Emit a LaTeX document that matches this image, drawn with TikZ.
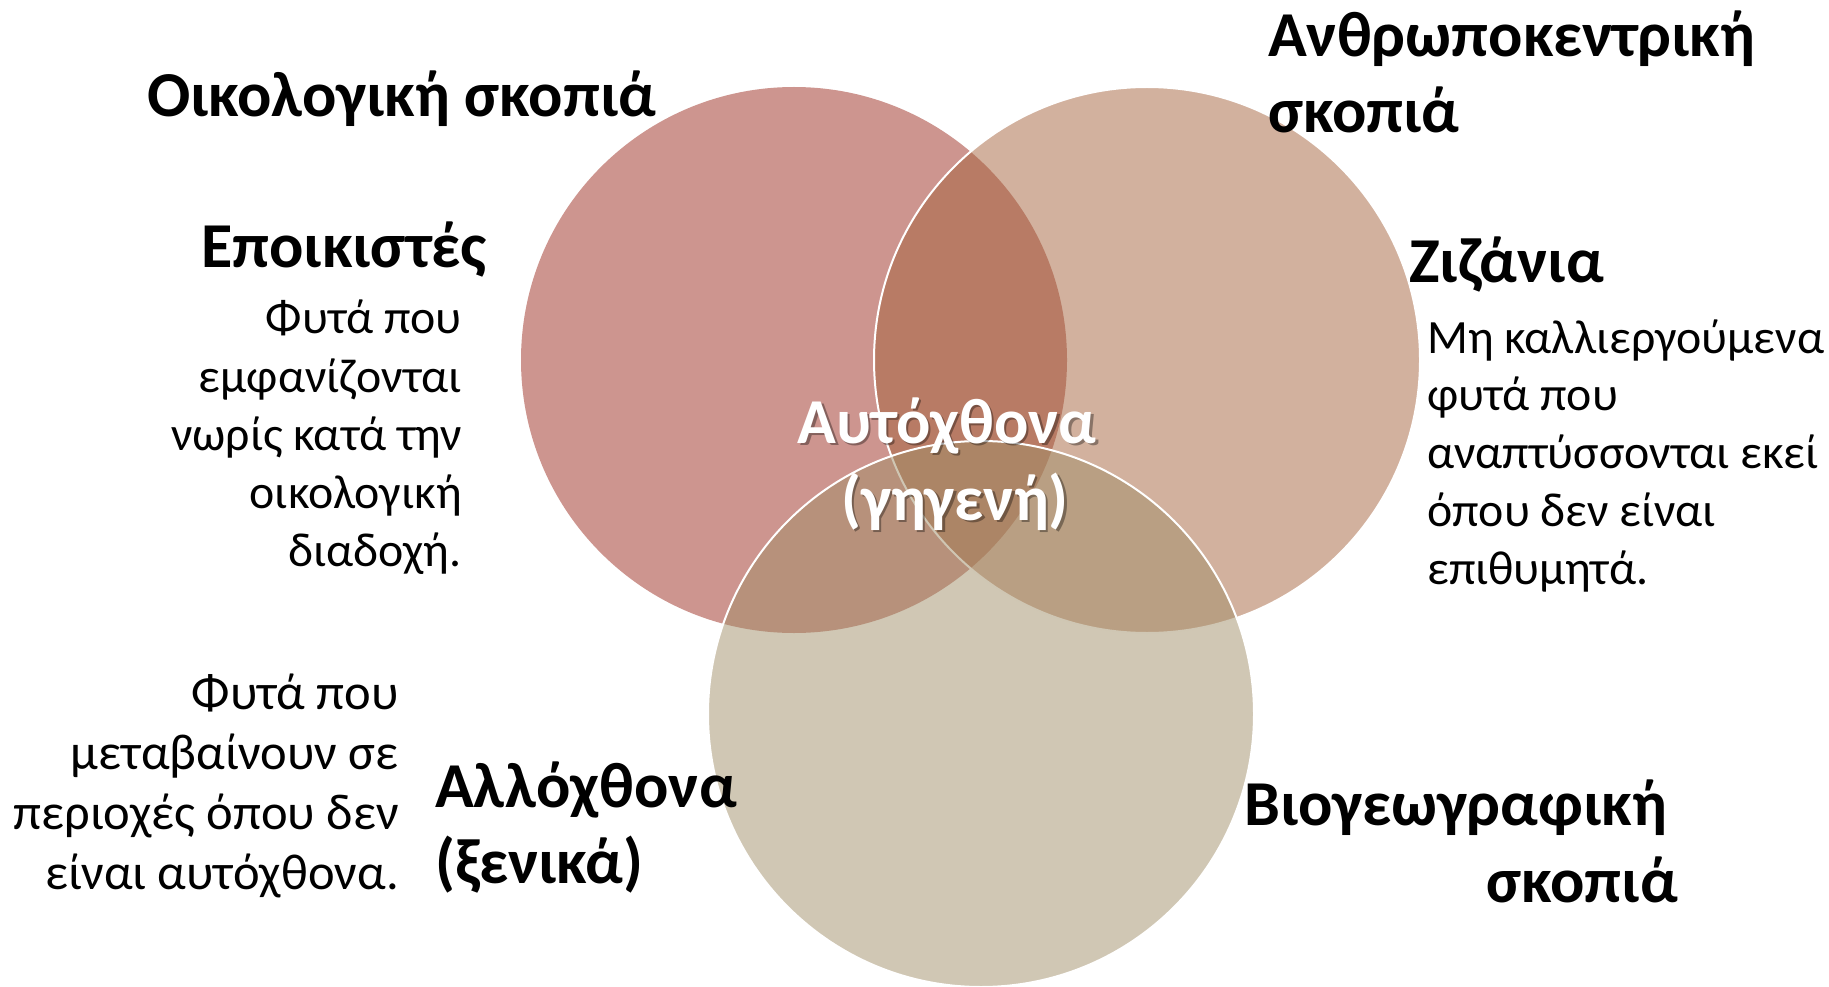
\documentclass[tikz,border=0pt]{standalone}
\usepackage{fontspec}
\setmainfont{Carlito}
\definecolor{cred}{RGB}{155,43,31}
\definecolor{ctan}{RGB}{165,99,61}
\definecolor{cbot}{RGB}{161,143,105}
\tikzset{
  venn/.style={circle, minimum size=546pt, inner sep=0pt, fill opacity=0.5},
  vline/.style={draw=white, line width=2pt},
  head/.style={inner sep=0pt, font=\fontsize{64}{76}\selectfont\bfseries},
  body/.style={inner sep=0pt, font=\fontsize{47.8}{58}\selectfont},
  bodyb/.style={inner sep=0pt, font=\fontsize{50.5}{60}\selectfont},
  ctext/.style={inner sep=0pt, anchor=base, text=white, font=\fontsize{64}{76}\selectfont\bfseries},
  cshadow/.style={inner sep=0pt, anchor=base, text=black, text opacity=0.35, font=\fontsize{64}{76}\selectfont\bfseries}
}
\begin{document}
\begin{tikzpicture}[x=1pt,y=-1pt]
\useasboundingbox (0,0) rectangle (1829,987);
% circles
\node[venn, fill=cred] (red) at (794,360) {};
\node[venn, fill=ctan, vline] (tan) at (1147,360) {};
\node[venn, fill=cbot, vline] (bot) at (981,714) {};
% headings
\node[head, anchor=base west] (oik) at (147,117) {Οικολογική σκοπιά};
\node[head, anchor=base west] (anth1) at (1268,57) {Ανθρωποκεντρική};
\node[head, anchor=base west] (anth2) at (1268,133) {σκοπιά};
\node[head, anchor=base east] (epo) at (487,268) {Εποικιστές};
\node[head, anchor=base west] (ziz) at (1409,283) {Ζιζάνια};
\node[head, anchor=base west] (all1) at (435,807) {Αλλόχθονα};
\node[head, anchor=base west] (all2) at (435,883) {(ξενικά)};
\node[head, anchor=base west] (bio1) at (1244,825) {Βιογεωγραφική};
\node[head, anchor=base east] (bio2) at (1678,902) {σκοπιά};
% body left top
\node[body, anchor=base east] (l1) at (462,333) {Φυτά που};
\node[body, anchor=base east] (l2) at (462,392) {εμφανίζονται};
\node[body, anchor=base east] (l3) at (462,450) {νωρίς κατά την};
\node[body, anchor=base east] (l4) at (462,508) {οικολογική};
\node[body, anchor=base east] (l5) at (462,566) {διαδοχή.};
% body right
\node[body, anchor=base west] (r1) at (1427,353) {Μη καλλιεργούμενα};
\node[body, anchor=base west] (r2) at (1427,410) {φυτά που};
\node[body, anchor=base west] (r3) at (1427,468) {αναπτύσσονται εκεί};
\node[body, anchor=base west] (r4) at (1427,526) {όπου δεν είναι};
\node[body, anchor=base west] (r5) at (1427,584) {επιθυμητά.};
% body bottom left
\node[bodyb, anchor=base east] (b1) at (399,709) {Φυτά που};
\node[bodyb, anchor=base east] (b2) at (399,769) {μεταβαίνουν σε};
\node[bodyb, anchor=base east] (b3) at (399,829) {περιοχές όπου δεν};
\node[bodyb, anchor=base east] (b4) at (399,889) {είναι αυτόχθονα.};
% centre
\node[cshadow] (cs1) at (949.5,445.5) {Αυτόχθονα};
\node[cshadow] (cs2) at (957.5,522.5) {(γηγενή)};
\node[ctext] (c1) at (947,443) {Αυτόχθονα};
\node[ctext] (c2) at (955,520) {(γηγενή)};
\end{tikzpicture}
\end{document}
